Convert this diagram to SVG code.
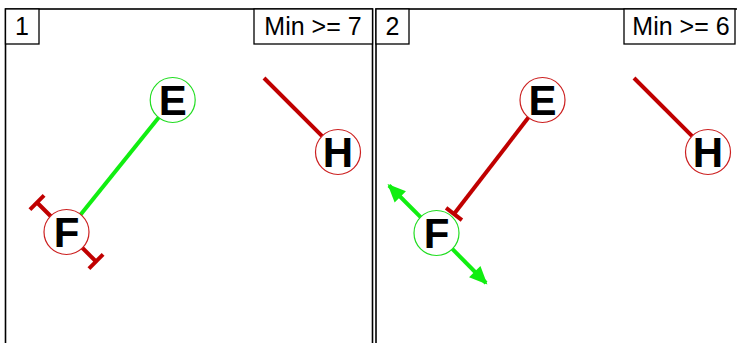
<svg xmlns="http://www.w3.org/2000/svg" width="737" height="343" viewBox="0 0 737 343">
<style>
.panel{fill:#fff;stroke:#000;stroke-width:1.6}
.lbl{fill:#fff;stroke:#000;stroke-width:1.3}
.t{font-family:"Liberation Sans",Arial,sans-serif;font-size:25px;fill:#000}
.n{font-family:"Liberation Sans",Arial,sans-serif;font-size:42px;font-weight:bold;fill:#000;text-anchor:middle}
.cr{fill:#fff;stroke:#cc2020;stroke-width:1.2}
.cg{fill:#fff;stroke:#22dd22;stroke-width:1.2}
.er{stroke:#c00000;stroke-width:4;fill:none}
.eg{stroke:#11ee11;stroke-width:4;fill:none}
</style>
<defs>
<marker id="tee" markerUnits="userSpaceOnUse" markerWidth="30" markerHeight="30" viewBox="-15 -15 30 30" refX="0" refY="0" orient="auto" overflow="visible">
<path d="M0,-10 V10" stroke="#c00000" stroke-width="4" fill="none"/>
</marker>
<marker id="arr" markerUnits="userSpaceOnUse" markerWidth="30" markerHeight="30" viewBox="-20 -15 30 30" refX="0" refY="0" orient="auto" overflow="visible">
<path d="M2,0 L-16,-8 L-16,8 Z" fill="#11ee11"/>
</marker>
</defs>
<rect width="737" height="343" fill="#fff"/>
<g id="panel1">
<rect class="panel" x="5.5" y="9" width="367" height="350"/>
<rect class="lbl" x="5.5" y="9" width="33.5" height="35"/>
<text class="t" x="22" y="34.5" text-anchor="middle">1</text>
<rect class="lbl" x="254" y="9" width="118.5" height="35"/>
<text class="t" x="313" y="34.5" text-anchor="middle">Min &gt;= 7</text>
</g>
<g id="panel2">
<rect class="panel" x="376" y="9" width="370" height="350"/>
<rect class="lbl" x="376" y="9" width="33" height="35"/>
<text class="t" x="392.5" y="34.5" text-anchor="middle">2</text>
<rect class="lbl" x="624" y="9" width="111" height="35"/>
<text class="t" x="681" y="34.5" text-anchor="middle">Min &gt;= 6</text>
</g>
<g id="connectors">
<line class="eg" x1="158.9" y1="117.2" x2="80.5" y2="214.8"/>
<line class="er" x1="264" y1="78" x2="322.4" y2="136.4"/>
<line class="er" x1="51" y1="216.5" x2="37" y2="202.5" marker-end="url(#tee)"/>
<line class="er" x1="82" y1="247.5" x2="96" y2="261.5" marker-end="url(#tee)"/>
<line class="er" x1="528.6" y1="117.3" x2="454" y2="214" marker-end="url(#tee)"/>
<line class="er" x1="634" y1="78" x2="692.4" y2="136.4"/>
<line class="eg" x1="421.1" y1="217.7" x2="389" y2="185.5" marker-end="url(#arr)"/>
<line class="eg" x1="452.3" y1="248.9" x2="486" y2="283" marker-end="url(#arr)"/>
</g>
<g id="node-E1"><circle class="cg" cx="172.7" cy="100" r="22.5"/><text class="n" x="172.7" y="115">E</text></g>
<g id="node-H1"><circle class="cr" cx="338" cy="152" r="22.5"/><text class="n" x="338" y="167">H</text></g>
<g id="node-F1"><circle class="cr" cx="66.5" cy="232" r="22.5"/><text class="n" x="66.5" y="247">F</text></g>
<g id="node-E2"><circle class="cr" cx="542.5" cy="100" r="22.5"/><text class="n" x="542.5" y="115">E</text></g>
<g id="node-H2"><circle class="cr" cx="708" cy="152" r="22.5"/><text class="n" x="708" y="167">H</text></g>
<g id="node-F2"><circle class="cg" cx="436.5" cy="233" r="22.5"/><text class="n" x="436.5" y="248">F</text></g>
</svg>
